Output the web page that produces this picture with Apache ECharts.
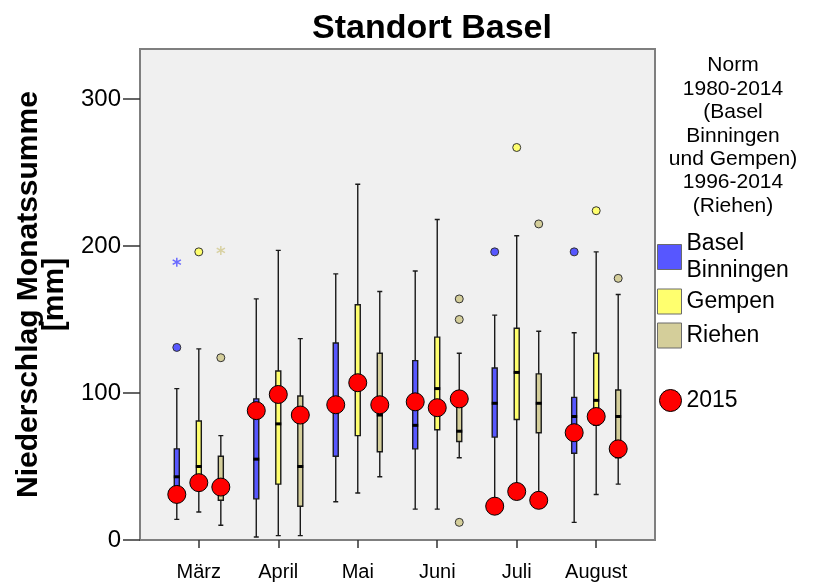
<!DOCTYPE html>
<html>
<head>
<meta charset="utf-8">
<script src="https://cdn.jsdelivr.net/npm/echarts@6/dist/echarts.min.js"></script>
<style>
  html, body { margin: 0; padding: 0; background: #ffffff; }
  #chart { width: 813px; height: 586px; }
</style>
</head>
<body>
<div id="chart"></div>
<script>
// Monthly precipitation totals (mm), norm period vs. 2015
const months = ['März', 'April', 'Mai', 'Juni', 'Juli', 'August'];
const yTicks = [0, 100, 200, 300];

// five-number summaries per month: [min, Q1, median, Q3, max]
const binningen = [
  [14, 34, 43, 62, 103],
  [2, 28, 55, 96, 164],
  [26, 57, 92, 134, 181],
  [21, 62, 78, 122, 183],
  [20, 70, 93, 117, 153],
  [12, 59, 84, 97, 141]
];
const gempen = [
  [19, 37, 50, 81, 130],
  [3, 38, 79, 115, 197],
  [32, 71, 105, 160, 242],
  [21, 75, 103, 138, 218],
  [31, 82, 114, 144, 207],
  [31, 78, 95, 127, 196]
];
const riehen = [
  [10, 27, 34, 57, 71],
  [3, 23, 50, 98, 137],
  [43, 60, 85, 127, 169],
  [56, 67, 74, 93, 127],
  [24, 73, 93, 113, 142],
  [38, 56, 84, 102, 167]
];

// outliers [monthIndex, value]
const binningenOutliers = [[0, 131], [4, 196], [5, 196]];
const gempenOutliers = [[0, 196], [4, 267], [5, 224]];
const riehenOutliers = [[0, 124], [3, 164], [3, 150], [3, 12], [4, 215], [5, 178]];

// extreme values [monthIndex, value]
const binningenExtremes = [[0, 189]];
const riehenExtremes = [[0, 197]];

// monthly totals 2015
const y2015Binningen = [31, 88, 92, 94, 23, 73];
const y2015Gempen = [39, 99, 107, 90, 33, 84];
const y2015Riehen = [36, 85, 92, 96, 27, 62];

const FONT = 'Liberation Sans, Arial, Helvetica, sans-serif';
const COL_BLUE = '#5757ff';
const COL_YELLOW = '#ffff6e';
const COL_TAN = '#d4ce9a';

// horizontal position of each station's box inside a month slot
const slot = [-0.277, 0, 0.277];

const asterisk = 'path://M-0.8,-5 L0.8,-5 L0.8,5 L-0.8,5 Z ' +
  'M4.73,1.81 L3.93,3.19 L-4.73,-1.81 L-3.93,-3.19 Z ' +
  'M3.93,-3.19 L4.73,-1.81 L-3.93,3.19 L-4.73,1.81 Z';

function boxData(stats, k) {
  return stats.map((s, i) => [i + slot[k]].concat(s));
}
function pointData(list, k) {
  return list.map(p => [p[0] + slot[k], p[1]]);
}
function medianData(stats, k) {
  return stats.map((s, i) => [i + slot[k], s[2]]);
}
function yearData(values, k) {
  return values.map((v, i) => [i + slot[k], v]);
}

const stations = [
  { name: 'Basel Binningen', stats: binningen, outliers: binningenOutliers, extremes: binningenExtremes, color: COL_BLUE, star: '#6a6aff' },
  { name: 'Gempen', stats: gempen, outliers: gempenOutliers, extremes: [], color: COL_YELLOW, star: '#e8e060' },
  { name: 'Riehen', stats: riehen, outliers: riehenOutliers, extremes: riehenExtremes, color: COL_TAN, star: '#d8d1a2' }
];

const series = [];
stations.forEach((st, k) => {
  series.push({
    name: st.name,
    type: 'boxplot',
    xAxisIndex: k,
    yAxisIndex: 0,
    boxWidth: [5, 5],
    silent: true,
    itemStyle: { color: st.color, borderColor: '#1a1a1a', borderWidth: 1.4 },
    data: boxData(st.stats, k)
  });
});
stations.forEach((st, k) => {
  series.push({
    name: st.name + ' Ausreisser',
    type: 'scatter',
    symbol: 'circle',
    symbolSize: 8,
    silent: true,
    itemStyle: { color: st.color, borderColor: '#333333', borderWidth: 1, opacity: 1 },
    data: pointData(st.outliers, k)
  });
  if (st.extremes.length) {
    series.push({
      name: st.name + ' Extremwerte',
      type: 'scatter',
      symbol: asterisk,
      symbolSize: 9,
      silent: true,
      itemStyle: { color: st.star, opacity: 1 },
      data: pointData(st.extremes, k)
    });
  }
  series.push({
    name: st.name + ' Median',
    type: 'scatter',
    symbol: 'rect',
    symbolSize: [6, 3],
    silent: true,
    itemStyle: { color: '#000000', opacity: 1 },
    data: medianData(st.stats, k)
  });
});
series.push({
  name: '2015',
  type: 'scatter',
  symbol: 'circle',
  symbolSize: 18,
  silent: true,
  z: 5,
  itemStyle: { color: '#ff0000', borderColor: '#000000', borderWidth: 1, opacity: 1 },
  data: yearData(y2015Binningen, 0).concat(yearData(y2015Gempen, 1), yearData(y2015Riehen, 2))
});

const xRange = { min: -0.74, max: 5.74 };
const monthIdx = months.map((m, i) => i);

function hiddenX() {
  return { type: 'value', min: xRange.min, max: xRange.max, show: false, gridIndex: 0 };
}

const legendBase = {
  orient: 'vertical',
  left: 657,
  padding: 0,
  itemWidth: 24,
  itemHeight: 25,
  icon: 'rect',
  selectedMode: false,
  textStyle: { fontFamily: FONT, fontSize: 23, lineHeight: 27, color: '#000000' }
};
function swatch(color) {
  return { color: color, borderColor: '#6b6b6b', borderWidth: 1 };
}

const option = {
  backgroundColor: '#ffffff',
  animation: false,
  title: {
    text: 'Standort Basel',
    left: 312,
    top: 12,
    padding: 0,
    textStyle: { fontFamily: FONT, fontSize: 34, fontWeight: 'bold', color: '#000000' }
  },
  grid: {
    left: 140, top: 49, width: 515, height: 491,
    show: true,
    backgroundColor: '#f0f0f0',
    borderColor: '#7f7f7f',
    borderWidth: 2
  },
  xAxis: [
    {
      type: 'value',
      min: xRange.min,
      max: xRange.max,
      gridIndex: 0,
      splitLine: { show: false },
      axisLine: { show: false, onZero: false },
      axisTick: { show: true, customValues: monthIdx, length: 8, lineStyle: { color: '#333333', width: 1.5 } },
      axisLabel: {
        customValues: monthIdx,
        formatter: v => months[Math.round(v)],
        margin: 22,
        fontFamily: FONT, fontSize: 20, color: '#000000'
      }
    },
    hiddenX(),
    hiddenX()
  ],
  yAxis: {
    type: 'value',
    min: 0,
    max: 334,
    name: 'Niederschlag Monatssumme\n[mm]',
    nameLocation: 'middle',
    nameGap: 72,
    nameTextStyle: { fontFamily: FONT, fontSize: 30, fontWeight: 'bold', lineHeight: 26, color: '#000000' },
    splitLine: { show: false },
    axisLine: { show: false, onZero: false },
    axisTick: { show: true, customValues: yTicks, length: 17, lineStyle: { color: '#333333', width: 1.5 } },
    axisLabel: { customValues: yTicks, margin: 19, fontFamily: FONT, fontSize: 24, color: '#000000' }
  },
  legend: [
    Object.assign({}, legendBase, {
      top: 230,
      data: [{ name: 'Basel Binningen', itemStyle: swatch(COL_BLUE) }],
      formatter: () => 'Basel\nBinningen'
    }),
    Object.assign({}, legendBase, { top: 288, data: [{ name: 'Gempen', itemStyle: swatch(COL_YELLOW) }] }),
    Object.assign({}, legendBase, { top: 322, data: [{ name: 'Riehen', itemStyle: swatch(COL_TAN) }] }),
    Object.assign({}, legendBase, {
      top: 387, left: 659, icon: 'circle', itemWidth: 22, itemHeight: 22,
      data: [{ name: '2015', itemStyle: { color: '#ff0000', borderColor: '#000000', borderWidth: 1 } }]
    })
  ],
  graphic: [
    {
      type: 'text',
      x: 733,
      y: 54,
      silent: true,
      style: {
        text: 'Norm\n1980-2014\n(Basel\nBinningen\nund Gempen)\n1996-2014\n(Riehen)',
        fill: '#000000',
        fontFamily: FONT,
        fontSize: 21,
        lineHeight: 23.4,
        align: 'center',
        textAlign: 'center',
        verticalAlign: 'top',
        textVerticalAlign: 'top'
      }
    }
  ],
  series: series
};

const chart = echarts.init(document.getElementById('chart'), null, { renderer: 'canvas' });
chart.setOption(option);
</script>
</body>
</html>
